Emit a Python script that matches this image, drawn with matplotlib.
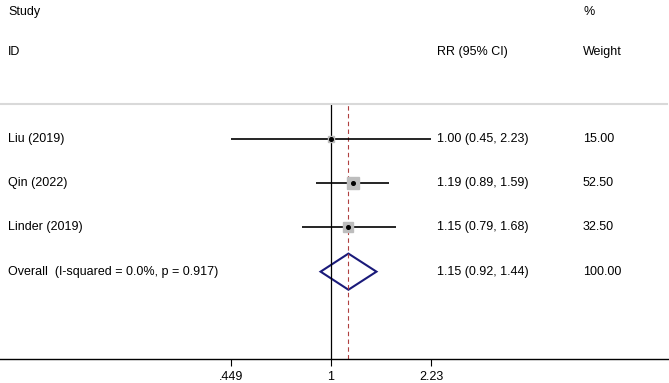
import numpy as np
import matplotlib
matplotlib.use("Agg")
import matplotlib.pyplot as plt
from matplotlib.patches import Polygon

plt.rcParams['font.family'] = ['Liberation Sans', 'DejaVu Sans']

studies = ["Liu (2019)", "Qin (2022)", "Linder (2019)"]
rr = [1.00, 1.19, 1.15]
lo = [0.45, 0.89, 0.79]
hi = [2.23, 1.59, 1.68]
weights = [15.00, 52.50, 32.50]
overall_label = "Overall  (I-squared = 0.0%, p = 0.917)"
overall = (1.15, 0.92, 1.44)
ticks = [0.449, 1, 2.23]
tick_labels = [".449", "1", "2.23"]

W, H = 669, 383
fig = plt.figure(figsize=(W / 100, H / 100), dpi=100)
# axes spans full width, from the gray rule (y=104) to the axis (y=359)
ax = fig.add_axes([0, 1 - 359 / H, 1, (359 - 104) / H])
ax.set_xscale("log")
ppd = 287.0  # pixels per decade
ax.set_xlim(10 ** (-331 / ppd), 10 ** ((W - 331) / ppd))
rows = np.arange(1, len(studies) + 2)
ax.set_ylim(4 + 87 / 44, 1 - 35 / 44)

for s in ["top", "right", "left"]:
    ax.spines[s].set_visible(False)
ax.spines["bottom"].set_linewidth(1.0)
ax.set_yticks([])
ax.set_xticks(ticks)
ax.set_xticklabels(tick_labels, fontsize=9)
ax.minorticks_off()
ax.tick_params(axis="x", length=5, width=0.8, pad=4)

# null line and overall effect line
ax.axvline(1, color="black", lw=0.9)
ax.axvline(overall[0], color="#b04040", lw=0.8, ls=(0, (4, 3)))

fs = 9
for i, (name, r, l, h, w) in enumerate(zip(studies, rr, lo, hi, weights)):
    y = rows[i]
    ax.plot([l, h], [y, y], color="black", lw=1.2, solid_capstyle="butt")
    ax.plot(r, y, marker="s", ms=1.25 * np.sqrt(w), color="#bdbdbd", mec="#bdbdbd")
    ax.plot(r, y, marker="o", ms=2.6, color="black")
    fig.text(8 / W, 1 - (139 + 44 * i) / H, name, fontsize=fs, va="center")
    fig.text(437 / W, 1 - (139 + 44 * i) / H, f"{r:.2f} ({l:.2f}, {h:.2f})", fontsize=fs, va="center")
    fig.text(583 / W, 1 - (139 + 44 * i) / H, f"{w:.2f}", fontsize=fs, va="center")

# overall diamond
yo = rows[-1]
m, l, h = overall
d = 18 / 44
ax.add_patch(Polygon([[l, yo], [m, yo - d], [h, yo], [m, yo + d]], closed=True,
                     fill=False, edgecolor="#1a1a7a", lw=1.5))
yp = 1 - 272 / H
fig.text(8 / W, yp, overall_label, fontsize=fs, va="center")
fig.text(437 / W, yp, f"{m:.2f} ({l:.2f}, {h:.2f})", fontsize=fs, va="center")
fig.text(583 / W, yp, f"{sum(weights):.2f}", fontsize=fs, va="center")

# headers
fig.text(8 / W, 1 - 12 / H, "Study", fontsize=fs, va="center")
fig.text(8 / W, 1 - 52 / H, "ID", fontsize=fs, va="center")
fig.text(437 / W, 1 - 52 / H, "RR (95% CI)", fontsize=fs, va="center")
fig.text(583 / W, 1 - 12 / H, "%", fontsize=fs, va="center")
fig.text(583 / W, 1 - 52 / H, "Weight", fontsize=fs, va="center")

# gray rule under headers
fig.add_artist(plt.Line2D([0, 667 / W], [1 - 104 / H, 1 - 104 / H], color="#d9d9d9", lw=1.5))

fig.savefig("out.png", dpi=100)
